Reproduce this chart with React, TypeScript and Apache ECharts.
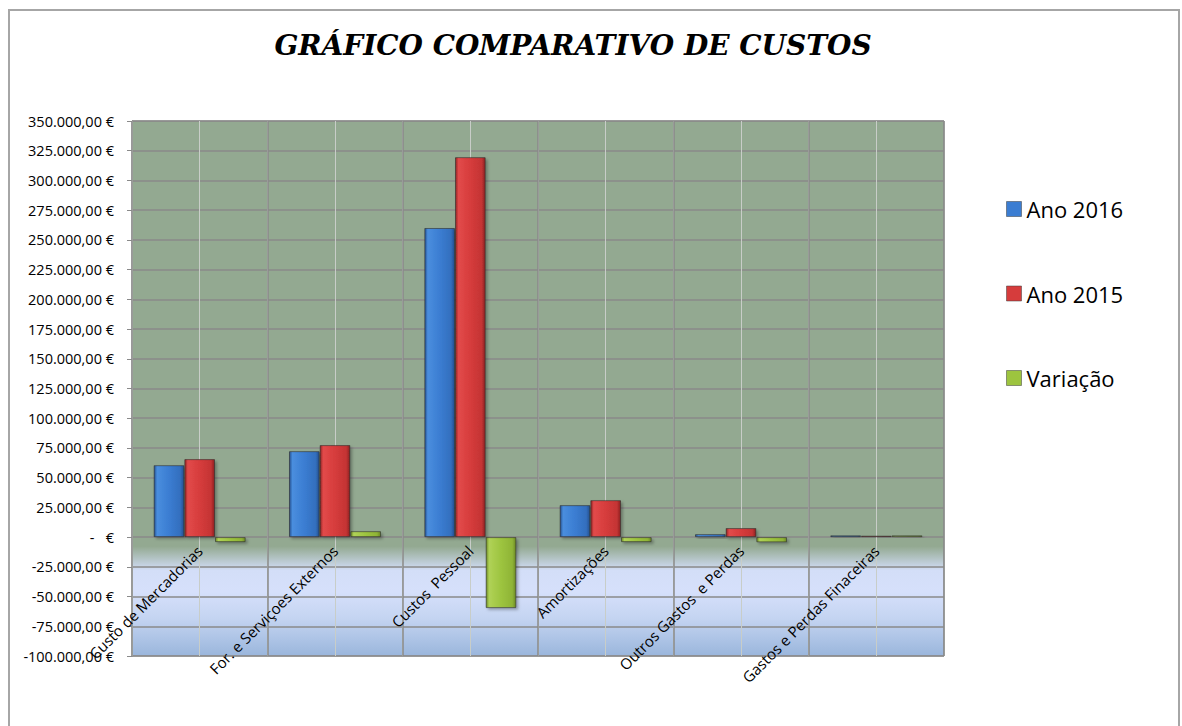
import React, { useEffect, useRef } from 'react';
import * as echarts from 'echarts';

const categories = [
  'Custo de Mercadorias',
  'For. e Serviçoes Externos',
  'Custos  Pessoal',
  'Amortizações',
  'Outros Gastos  e Perdas',
  'Gastos e Perdas Finaceiras',
];
const ano2016 = [60500, 72300, 260000, 26900, 2500, 1500];
const ano2015 = [65600, 77400, 319600, 31100, 7600, 1200];
const variacao = [-4200, 5000, -59700, -4200, -4400, 1500];
const seriesNames = ['Ano 2016', 'Ano 2015', 'Variação'];
const yMin = -100000;
const yMax = 350000;
const yStep = 25000;

function fmtEuro(v: number): string {
  if (v === 0) return '-   €';
  const neg = v < 0;
  const s = Math.abs(v).toFixed(2);
  const [i, d] = s.split('.');
  const ii = i.replace(/\B(?=(\d{3})+(?!\d))/g, '.');
  return (neg ? '-' : '') + ii + ',' + d + ' €';
}

function barGrad(edge: string, light: string, mid: string, mid2: string) {
  return new echarts.graphic.LinearGradient(0, 0, 1, 0, [
    { offset: 0, color: edge },
    { offset: 0.1, color: light },
    { offset: 0.5, color: mid },
    { offset: 0.88, color: mid2 },
    { offset: 1, color: edge },
  ]);
}

export default function App() {
  const ref = useRef<HTMLDivElement>(null);
  useEffect(() => {
    if (!ref.current) return;
    const chart = echarts.init(ref.current, undefined, { renderer: 'svg' });
    const font = 'Open Sans';
    const gridHeight = 535;
    const zeroOffset = ((0 - yMin) / (yMax - yMin)) * gridHeight;
    const colors = [
      barGrad('#25508f', '#4a8ede', '#3b7dd2', '#336fbe'),
      barGrad('#8e2222', '#e24a4a', '#d63c3c', '#c43434'),
      barGrad('#6d8a25', '#b0d257', '#9dc43f', '#8fb436'),
    ];
    const legendColors = ['#3b7dd2', '#d63c3c', '#9dc43f'];
    const dataSets = [ano2016, ano2015, variacao];
    const option: any = {
      animation: false,
      backgroundColor: '#ffffff',
      textStyle: { fontFamily: font },
      graphic: [
        {
          type: 'text',
          x: 563,
          y: 34,
          style: {
            text: 'GRÁFICO COMPARATIVO DE CUSTOS',
            fontFamily: 'DejaVu Serif',
            fontStyle: 'italic',
            fontWeight: 'bold',
            fontSize: 28,
            fill: '#000',
            textAlign: 'center',
            textVerticalAlign: 'middle',
          },
        },
      ],
      legend: {
        orient: 'vertical',
        left: 991,
        top: 182,
        itemWidth: 15,
        itemHeight: 15,
        itemGap: 62.5,
        icon: 'rect',
        data: seriesNames.map((n, i) => ({
          name: n,
          itemStyle: { color: legendColors[i], borderColor: 'rgba(60,60,60,0.5)', borderWidth: 1 },
        })),
        textStyle: { fontFamily: font, fontSize: 22, color: '#000', lineHeight: 22 },
      },
      grid: {
        left: 122,
        top: 110,
        width: 812,
        height: gridHeight,
        outerBoundsMode: 'none',
        containLabel: false,
        show: true,
        borderColor: '#8a8a8a',
        borderWidth: 1,
        backgroundColor: new echarts.graphic.LinearGradient(0, 0, 0, 1, [
          { offset: 0, color: '#93a991' },
          { offset: 0.795, color: '#93a991' },
          { offset: 0.84, color: '#d3def8' },
          { offset: 0.88, color: '#d6e0fb' },
          { offset: 0.93, color: '#c4d4f1' },
          { offset: 1, color: '#9ab6dc' },
        ]),
      },
      xAxis: [
        {
          type: 'category',
          data: categories,
          z: 3,
          offset: -zeroOffset,
          axisLine: { show: false, onZero: false },
          axisTick: { show: false },
          splitLine: { show: true, lineStyle: { color: '#8a8a8a', width: 1.5 } },
          axisLabel: {
            interval: 0,
            rotate: 45,
            margin: 11,
            fontFamily: font,
            fontSize: 15,
            color: '#000',
          },
        },
        {
          type: 'value',
          min: 0,
          max: 6,
          interval: 0.5,
          position: 'top',
          z: 1,
          axisLine: { show: false, onZero: false },
          axisTick: { show: false },
          axisLabel: { show: false },
          splitLine: { show: true, lineStyle: { color: '#c8cdc8', width: 1 } },
        },
      ],
      yAxis: {
        type: 'value',
        min: yMin,
        max: yMax,
        interval: yStep,
        axisLine: { show: true, onZero: false, lineStyle: { color: '#8a8a8a' } },
        axisTick: { show: true, length: 5, lineStyle: { color: '#8a8a8a' } },
        splitLine: { show: true, lineStyle: { color: '#8a8a8a', width: 1.5 } },
        axisLabel: {
          margin: 18,
          fontFamily: font,
          fontSize: 14.5,
          color: '#000',
          formatter: (v: number) => fmtEuro(v),
        },
      },
      series: seriesNames.map((n, i) => ({
        name: n,
        type: 'bar',
        xAxisIndex: 0,
        barGap: '0%',
        barCategoryGap: '32%',
        data: dataSets[i],
        itemStyle: {
          color: colors[i],
          borderColor: 'rgba(40,40,40,0.55)',
          borderWidth: 1,
          shadowColor: 'rgba(0,0,0,0.3)',
          shadowBlur: 3,
          shadowOffsetX: 2,
          shadowOffsetY: 2,
        },
      })),
    };
    chart.setOption(option);
    return () => chart.dispose();
  }, []);
  return (
    <div
      style={{
        position: 'fixed',
        left: 8,
        top: 9,
        width: 1168,
        height: 730,
        borderLeft: '2px solid #a6a6a6',
        borderTop: '2px solid #a6a6a6',
        borderRight: '2px solid #a6a6a6',
        background: '#fff',
      }}
    >
      <div ref={ref} style={{ width: 1168, height: 730 }} />
    </div>
  );
}
